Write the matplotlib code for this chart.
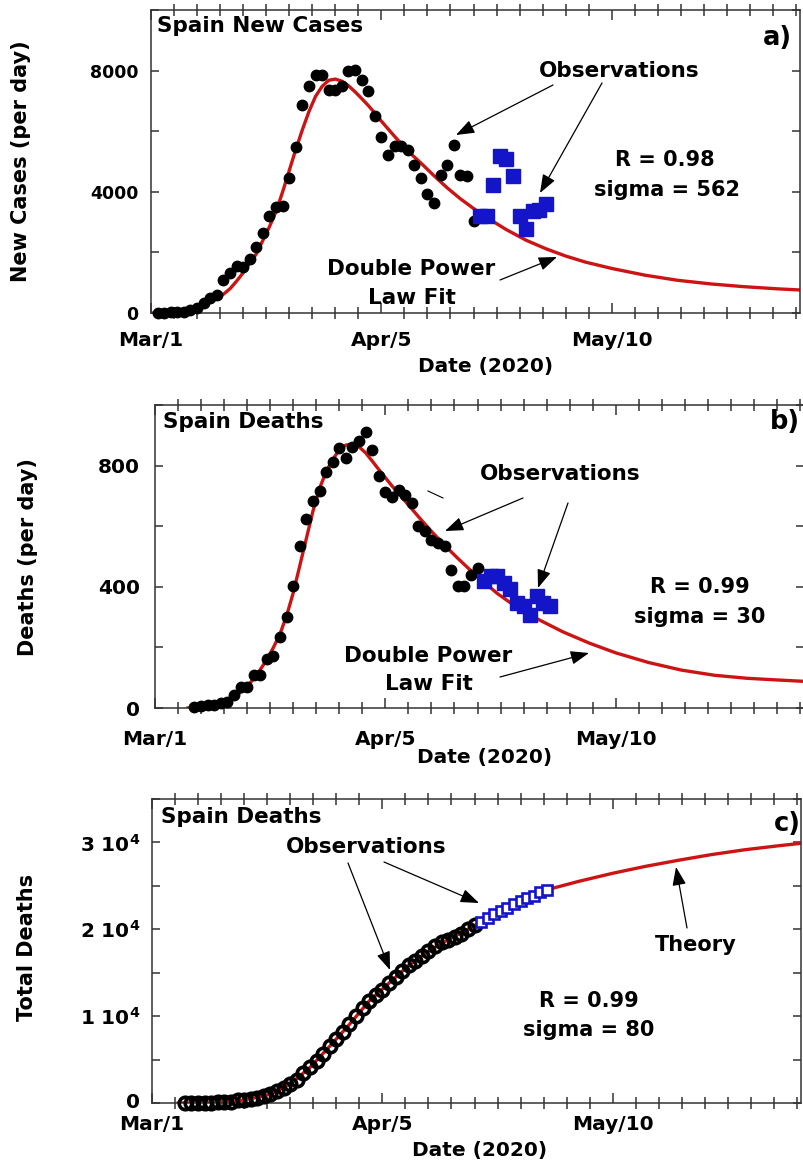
import matplotlib
matplotlib.use('Agg')
import matplotlib.pyplot as plt
from matplotlib.ticker import MultipleLocator
from matplotlib.lines import Line2D

# ---------------- data (days since Mar 1, 2020) ----------------
date_ticks = [0, 35, 70]
date_labels = ['Mar/1', 'Apr/5', 'May/10']

# a) new cases per day
cases_days = list(range(1, 50))
cases_obs = [0, 10, 20, 30, 45, 100, 155, 320, 480, 595,
             1090, 1310, 1555, 1530, 1775, 2190, 2635, 3185, 3495, 3515,
             4450, 5475, 6855, 7505, 7870, 7870, 7370, 7370, 7505, 7980,
             8035, 7700, 7315, 6490, 5800, 5225, 5500, 5500, 5390, 4895,
             4450, 3920, 3625, 4560, 4895, 5555, 4540, 4505, 3050]
cases_new_days = list(range(50, 61))
cases_new = [3185, 3185, 4230, 5170, 5080, 4505, 3185, 2765, 3350, 3400, 3600]
cases_fit_days = [0, 2, 4, 6, 8, 10, 11, 12, 13, 14, 15, 16, 17, 18, 19, 20, 21, 22, 23, 24,
                  25, 26, 27, 28, 29, 30, 31, 32, 33, 34, 35, 37, 39, 41, 43, 45, 47, 49,
                  51, 54, 57, 60, 63, 66, 70, 75, 80, 85, 90, 95, 98.6]
cases_fit = [0, 10, 40, 120, 260, 480, 620, 800, 1050, 1330, 1650, 1950, 2400, 2850, 3350,
             4000, 4700, 5400, 6050, 6650, 7150, 7480, 7680, 7720, 7650, 7500, 7300, 7080,
             6850, 6600, 6330, 5830, 5350, 4950, 4530, 4130, 3770, 3450, 3150, 2750, 2400,
             2120, 1880, 1680, 1470, 1250, 1080, 960, 870, 800, 760]

# b) deaths per day
deaths_days = list(range(6, 50))
deaths_obs = [2, 7, 10, 10, 15, 21, 43, 68, 70, 109,
              109, 161, 172, 234, 300, 401, 536, 624, 682, 715,
              778, 811, 859, 826, 862, 880, 911, 851, 765, 712,
              697, 720, 704, 677, 602, 585, 555, 546, 536, 456,
              403, 404, 440, 462]
deaths_new_days = list(range(50, 61))
deaths_new = [418, 434, 437, 414, 392, 346, 335, 307, 368, 348, 335]
deaths_fit_days = [5, 7, 9, 11, 12, 13, 14, 15, 16, 17, 18, 19, 20, 21, 22, 23, 24, 25, 26, 27,
                   28, 29, 30, 31, 32, 33, 34, 35, 36, 38, 40, 42, 44, 46, 48, 50, 52, 55, 58,
                   62, 66, 70, 75, 80, 85, 90, 95, 98.6]
deaths_fit = [0, 3, 10, 24, 35, 52, 72, 97, 127, 160, 200, 245, 305, 380, 470, 560, 650, 725,
              780, 820, 852, 868, 870, 862, 842, 815, 787, 760, 733, 683, 632, 583, 537, 494,
              453, 415, 378, 332, 295, 251, 214, 182, 150, 125, 108, 98, 92, 88]

# c) total deaths
total_days = list(range(5, 50))
total_obs = [10, 17, 28, 35, 54, 84, 120, 136, 288, 309,
             491, 598, 767, 1002, 1326, 1720, 2182, 2696, 3434, 4089,
             4858, 5690, 6528, 7340, 8189, 9053, 10003, 10935, 11744, 12418,
             13055, 13798, 14555, 15238, 15843, 16353, 16972, 17489, 18056, 18579,
             18812, 19130, 19478, 20002, 20453]
total_new_days = list(range(50, 61))
total_new = [20850, 21280, 21720, 22100, 22500, 22900, 23200, 23550, 23850, 24250, 24550]
theory_days = [4, 8, 12, 15, 18, 21, 24, 27, 30, 33, 36, 39, 42, 45, 48, 51, 54, 57, 60,
               65, 70, 75, 80, 85, 90, 95, 98.6]
theory = [0, 35, 136, 491, 1002, 2182, 4089, 6528, 9053, 11744, 13798, 15843, 17489, 18812,
          20002, 21280, 22500, 23550, 24550, 25550, 26450, 27250, 27950, 28600, 29150,
          29600, 29900]

# ---------------- style ----------------
plt.rcParams['font.family'] = ['DejaVu Sans']
plt.rcParams['font.weight'] = 'bold'
plt.rcParams['mathtext.default'] = 'bf'

RED = '#cc1414'
BLUE = '#1414c8'
SPINE = '#333333'

W, H = 804, 1166
fig = plt.figure(figsize=(W / 100, H / 100), dpi=100)


def rect(l, t, r, b):
    return [l / W, 1 - b / H, (r - l) / W, (b - t) / H]


def ftext(x, y, s, size, ha='center', va='center'):
    fig.text(x / W, 1 - y / H, s, fontsize=size, fontweight='bold', ha=ha, va=va)


def farrow(x0, y0, x1, y1):
    fig.add_artist(matplotlib.patches.FancyArrowPatch(
        (x0 / W, 1 - y0 / H), (x1 / W, 1 - y1 / H), transform=fig.transFigure,
        arrowstyle='-|>,head_length=0.75,head_width=0.28', mutation_scale=15,
        lw=0.9, color='black', shrinkA=0, shrinkB=0))


def style_axes(ax, xpad, ypad, ysize):
    ax.set_xlim(0, 98.6)
    ax.set_xticks(date_ticks)
    ax.set_xticklabels(date_labels, fontsize=14.5, fontweight='bold')
    ax.xaxis.set_minor_locator(MultipleLocator(3.5))
    ax.tick_params(axis='x', which='major', direction='in', length=7.5, width=1.1,
                   top=True, pad=xpad, color=SPINE)
    ax.tick_params(axis='x', which='minor', direction='inout', length=8, width=1.1,
                   top=True, color=SPINE)
    ax.tick_params(axis='y', which='both', direction='in', length=6, width=1.1,
                   right=True, pad=ypad, color=SPINE, labelsize=ysize)
    for lab in ax.get_yticklabels():
        lab.set_fontweight('bold')
    for sp in ax.spines.values():
        sp.set_linewidth(1.1)
        sp.set_color(SPINE)


# ---------------- panel a ----------------
axA = fig.add_axes(rect(151, 10, 800, 313))
axA.plot(cases_fit_days, cases_fit, color=RED, lw=2.4, zorder=2)
axA.plot(cases_days, cases_obs, 'o', color='black', ms=7.5, zorder=3, clip_on=False)
axA.plot(cases_new_days, cases_new, 's', color=BLUE, ms=9.5, zorder=4, clip_on=False)
axA.set_ylim(0, 10000)
axA.set_yticks([0, 4000, 8000])
axA.yaxis.set_minor_locator(MultipleLocator(2000))
style_axes(axA, 13, 9, 12.5)
axA.set_ylabel('New Cases (per day)', fontsize=15, fontweight='bold')
axA.yaxis.set_label_coords(-0.200, 0.502)
axA.yaxis.label.set_va('center')
axA.set_xlabel('Date (2020)', fontsize=14.5, fontweight='bold')
axA.xaxis.set_label_coords(0.515, -0.178)
axA.xaxis.label.set_va('center')

# ---------------- panel b ----------------
axB = fig.add_axes(rect(155, 405, 804, 708))
axB.plot(deaths_fit_days, deaths_fit, color=RED, lw=2.4, zorder=2)
axB.plot(deaths_days, deaths_obs, 'o', color='black', ms=7.5, zorder=3, clip_on=False)
axB.plot(deaths_new_days, deaths_new, 's', color=BLUE, ms=9.5, zorder=4, clip_on=False)
axB.set_ylim(0, 1000)
axB.set_yticks([0, 400, 800])
axB.yaxis.set_minor_locator(MultipleLocator(200))
style_axes(axB, 15.5, 11, 14.5)
axB.set_ylabel('Deaths (per day)', fontsize=15, fontweight='bold')
axB.yaxis.set_label_coords(-0.196, 0.498)
axB.yaxis.label.set_va('center')
axB.set_xlabel('Date (2020)', fontsize=14.5, fontweight='bold')
axB.xaxis.set_label_coords(0.508, -0.162)
axB.xaxis.label.set_va('center')

# ---------------- panel c ----------------
axC = fig.add_axes(rect(152, 799, 801, 1103))
axC.plot(theory_days, theory, color=RED, lw=2.4, zorder=2)
axC.plot(total_days, total_obs, 'o', mfc='none', mec='black', mew=2.6, ms=9,
         zorder=3, clip_on=False)
axC.plot(total_new_days, total_new, 's', mfc='white', mec=BLUE, mew=1.9, ms=7.5,
         zorder=4, clip_on=False)
axC.set_ylim(0, 35000)
axC.set_yticks([0, 10000, 20000, 30000])
axC.set_yticklabels(['0', r'$1\ 10^{4}$', r'$2\ 10^{4}$', r'$3\ 10^{4}$'])
axC.yaxis.set_minor_locator(MultipleLocator(5000))
style_axes(axC, 9, 8.5, 14.5)
axC.get_yticklabels()[0].set_va('center')
axC.set_ylabel('Total Deaths', fontsize=15, fontweight='bold')
axC.yaxis.set_label_coords(-0.192, 0.513)
axC.yaxis.label.set_va('center')
axC.set_xlabel('Date (2020)', fontsize=14.5, fontweight='bold')
axC.xaxis.set_label_coords(0.504, -0.155)
axC.xaxis.label.set_va('center')

# ---------------- annotations ----------------
# panel a
ftext(157, 26, 'Spain New Cases', 15.5, ha='left')
ftext(792, 38, 'a)', 18.5, ha='right')
ftext(619, 71, 'Observations', 15.5)
farrow(553, 85, 456, 135)
farrow(602, 83, 540, 193)
ftext(665, 160, 'R = 0.98', 15)
ftext(667, 190, 'sigma = 562', 15)
ftext(411, 269, 'Double Power', 15.5)
ftext(412, 298, 'Law Fit', 15.5)
farrow(500, 280, 557, 257)

# panel b
ftext(163, 422, 'Spain Deaths', 15.5, ha='left')
ftext(800, 422, 'b)', 18.5, ha='right')
ftext(560, 474, 'Observations', 15.5)
farrow(523, 498, 445, 531)
farrow(568, 503, 538, 588)
fig.add_artist(Line2D([428 / W, 443 / W], [1 - 491 / H, 1 - 498 / H], lw=0.8, color='black'))
ftext(700, 587, 'R = 0.99', 15)
ftext(700, 617, 'sigma = 30', 15)
ftext(428, 656, 'Double Power', 15.5)
ftext(429, 684, 'Law Fit', 15.5)
farrow(500, 677, 589, 653)

# panel c
ftext(161, 817, 'Spain Deaths', 15.5, ha='left')
ftext(801, 824, 'c)', 18.5, ha='right')
ftext(366, 847, 'Observations', 15.5)
farrow(348, 863, 390, 970)
farrow(384, 862, 479, 903)
ftext(696, 945, 'Theory', 15)
farrow(687, 928, 676, 867)
ftext(589, 1001, 'R = 0.99', 15)
ftext(589, 1030, 'sigma = 80', 15)

fig.savefig('out.png', dpi=100)
